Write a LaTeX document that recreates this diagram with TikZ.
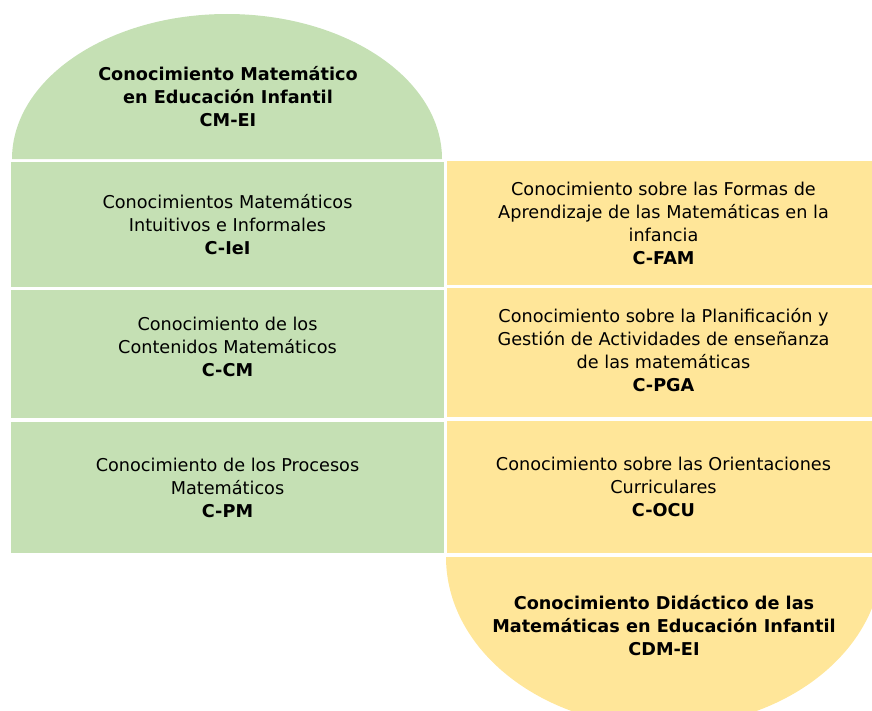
\documentclass[tikz,border=0pt]{standalone}
\usepackage{fontspec}
\setmainfont{DejaVu Sans}
\definecolor{verde}{HTML}{C5E0B4}
\definecolor{amarillo}{HTML}{FFE699}
\newcommand{\sigla}[1]{\textbf{#1}}

\begin{document}
\begin{tikzpicture}[x=0.6pt, y=0.6pt,
  texto/.style={align=center, inner sep=0pt, font=\fontsize{10.6}{13.8}\selectfont},
  verdebox/.style={texto, fill=verde, minimum width=259.8pt},
  amarillobox/.style={texto, fill=amarillo, minimum width=259.8pt},
  titulo/.style={texto, font=\fontsize{10.6}{13.8}\selectfont\bfseries}]
\useasboundingbox (0,0) rectangle (872,-711);
\clip (0,0) rectangle (872,-711);
% half ellipses
\fill[verde] (12,-159) arc[start angle=180, end angle=0, x radius=215, y radius=145];
\fill[amarillo] (446,-557) arc[start angle=180, end angle=360, x radius=218, y radius=170];
\node[titulo] (cmei) at (228,-97) {Conocimiento Matemático\\en Educación Infantil\\CM-EI};
\node[titulo] (cdmei) at (664,-626) {Conocimiento Didáctico de las\\Matemáticas en Educación Infantil\\CDM-EI};
% left column
\node[verdebox, minimum height=75pt] (ciei) at (227.5,-224.5) {Conocimientos Matemáticos\\Intuitivos e Informales\\\sigla{C-IeI}};
\node[verdebox, minimum height=76.8pt, text depth=8.4pt] (ccm) at (227.5,-354) {Conocimiento de los\\Contenidos Matemáticos\\\sigla{C-CM}};
\node[verdebox, minimum height=78.6pt] (cpm) at (227.5,-487.5) {Conocimiento de los Procesos\\Matemáticos\\\sigla{C-PM}};
% right column
\node[amarillobox, minimum height=74.4pt] (cfam) at (663.5,-223) {Conocimiento sobre las Formas de\\Aprendizaje de las Matemáticas en la\\infancia\\\sigla{C-FAM}};
\node[amarillobox, minimum height=77.4pt, text depth=3pt] (cpga) at (663.5,-352.5) {Conocimiento sobre la Planificación y\\Gestión de Actividades de enseñanza\\de las matemáticas\\\sigla{C-PGA}};
\node[amarillobox, minimum height=79.2pt] (cocu) at (663.5,-487) {Conocimiento sobre las Orientaciones\\Curriculares\\\sigla{C-OCU}};
\end{tikzpicture}
\end{document}
